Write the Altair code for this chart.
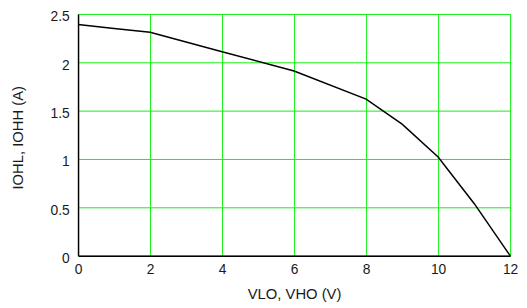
import altair as alt
import pandas as pd

vlo = [0, 1, 2, 4, 6, 8, 9, 10, 11, 12]
ioh = [2.39, 2.35, 2.31, 2.11, 1.91, 1.62, 1.36, 1.02, 0.54, 0.0]

x_ticks = [0, 2, 4, 6, 8, 10, 12]
y_ticks = [0, 0.5, 1, 1.5, 2, 2.5]

df = pd.DataFrame({"v": vlo, "i": ioh})

FONT = "Liberation Sans"
TXT = "#1a1a1a"
GRID = "#11f011"

chart = alt.Chart(df).mark_line(color="black", strokeWidth=1.5).encode(
    x=alt.X(
        "v:Q",
        scale=alt.Scale(domain=[0, 12], nice=False),
        axis=alt.Axis(
            values=x_ticks,
            format="~g",
            title="VLO, VHO (V)",
            grid=True,
            gridColor=GRID,
            gridWidth=1,
            gridOpacity=1,
            domainColor="black",
            domainWidth=1.5,
            ticks=False,
            labelPadding=7,
            labelFontSize=14,
            labelFont=FONT,
            labelColor=TXT,
            labelFlush=False,
            titleFont=FONT,
            titleFontSize=15,
            titleFontWeight="normal",
            titleColor=TXT,
            titleY=38,
            titleBaseline="middle",
        ),
    ),
    y=alt.Y(
        "i:Q",
        scale=alt.Scale(domain=[0, 2.5], nice=False),
        axis=alt.Axis(
            values=y_ticks,
            format="~g",
            title="IOHL, IOHH (A)",
            grid=True,
            gridColor=GRID,
            gridWidth=1,
            gridOpacity=1,
            domainColor="black",
            domainWidth=1.5,
            ticks=False,
            labelPadding=9,
            labelOffset=3,
            labelFontSize=14,
            labelFont=FONT,
            labelColor=TXT,
            labelFlush=False,
            titleFont=FONT,
            titleFontSize=15,
            titleFontWeight="normal",
            titleColor=TXT,
            titleAngle=270,
            titleX=-61,
            titleY=125,
            titleAlign="center",
            titleBaseline="middle",
        ),
    ),
).properties(
    width=438,
    height=245,
    autosize=alt.AutoSizeParams(type="none"),
    padding={"left": 71, "top": 4, "right": 9, "bottom": 49},
).configure_view(
    stroke="#1a1a1a",
    strokeWidth=1.5,
).configure(background="white")

chart.save("out.html", embed_options={"renderer": "svg", "actions": False})
